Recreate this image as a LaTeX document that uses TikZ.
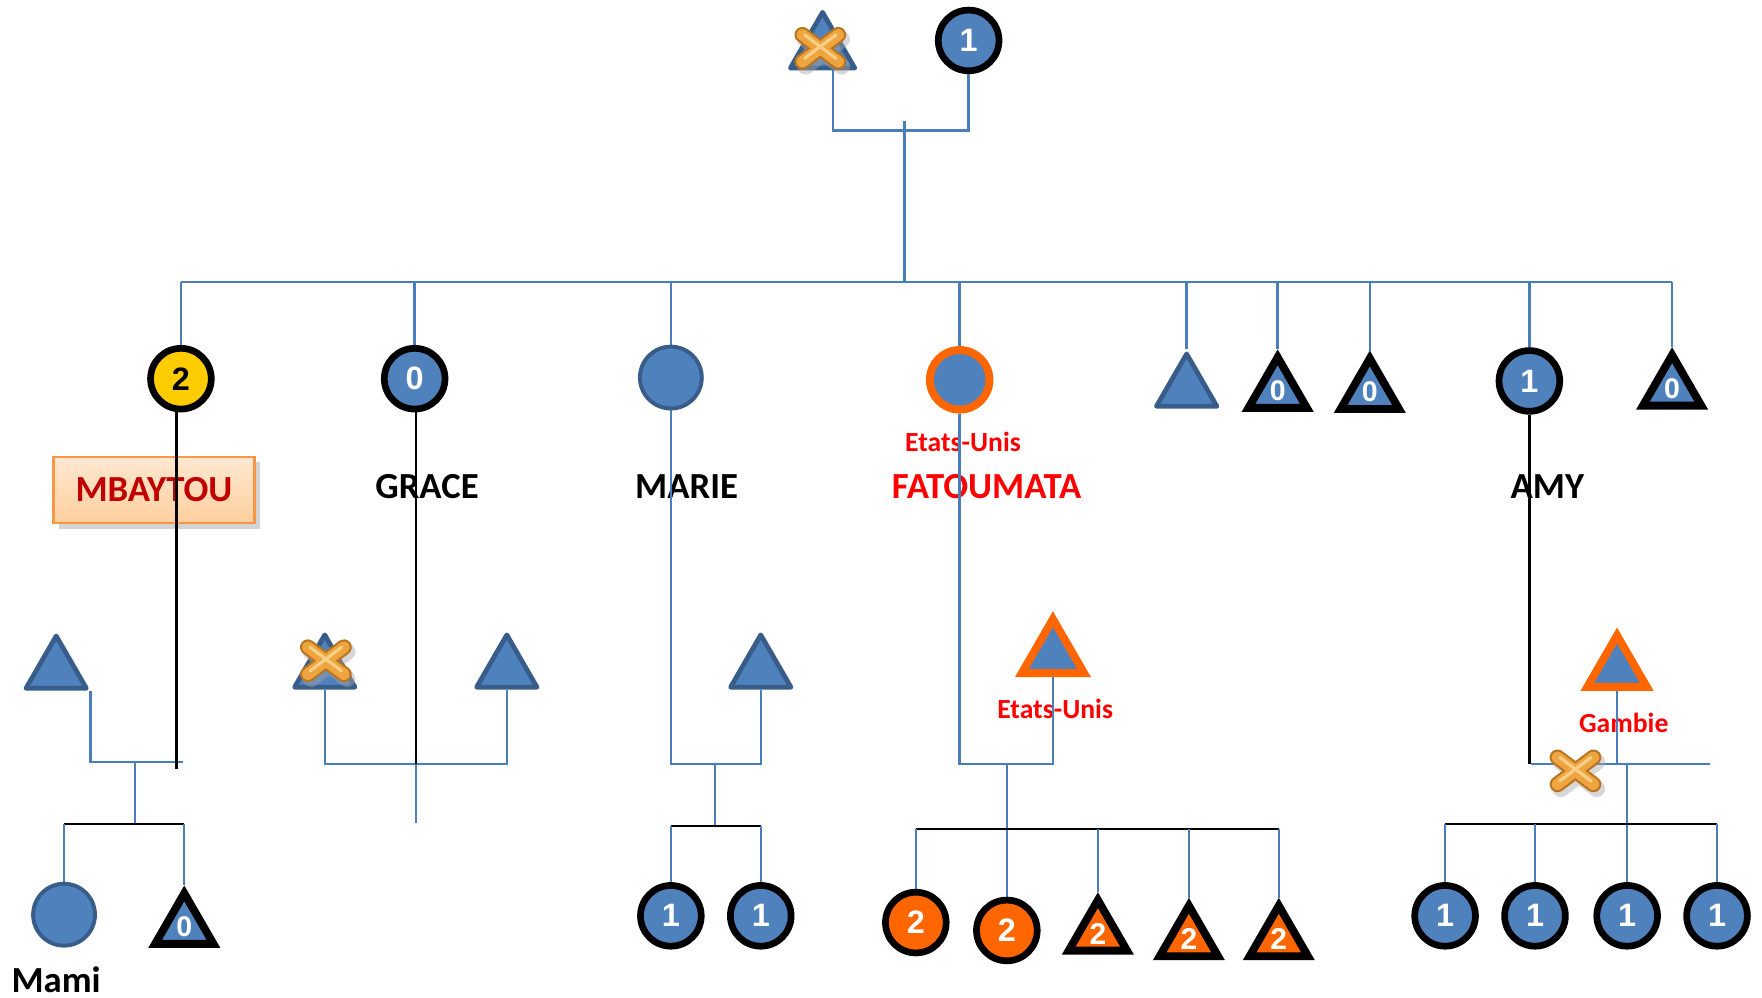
\documentclass[tikz,border=0pt]{standalone}
\usepackage{fontspec}
\setmainfont{Carlito}
\newfontfamily\digitfont{Liberation Sans}
\usetikzlibrary{shapes.geometric,shadows}
\definecolor{bfill}{HTML}{4F81BD}
\definecolor{bedge}{HTML}{385D8A}
\definecolor{lblue}{HTML}{4A7EBB}
\definecolor{orng}{HTML}{FF6600}
\definecolor{yell}{HTML}{FFCC00}
\definecolor{redt}{HTML}{FF0000}
\definecolor{dred}{HTML}{C00000}
\definecolor{boxedge}{HTML}{F79646}
\definecolor{xout}{HTML}{B87420}
\definecolor{xin}{HTML}{EEA43F}
\definecolor{xhi}{HTML}{F8CF86}
\pgfdeclarelayer{lab}
\pgfdeclarelayer{con}
\pgfsetlayers{lab,con,main}
\tikzset{
  bl/.style={draw=lblue, line width=0.6pt},
  bk/.style={draw=black, line width=0.6pt},
  circ/.style={circle, draw=black, line width=1.7pt, fill=bfill, minimum size=5.4mm, inner sep=0pt, text=white, font=\digitfont\bfseries\fontsize{8.2}{9}\selectfont},
  ycirc/.style={circ, fill=yell, text=black},
  kocirc/.style={circ, fill=orng},
  pcirc/.style={circle, draw=bedge, line width=1pt, fill=bfill, minimum size=5.5mm, inner sep=0pt},
  ocirc/.style={circle, draw=orng, line width=2pt, fill=bfill, minimum size=5.3mm, inner sep=0pt},
  btri/.style={regular polygon, regular polygon sides=3, draw=bedge, fill=bfill, line width=1.2pt, line join=round, minimum size=6.2mm, inner sep=0pt},
  ktri/.style={regular polygon, regular polygon sides=3, draw=black, fill=bfill, line width=2pt, minimum size=6mm, inner sep=0pt, text=white, font=\digitfont\bfseries\fontsize{7.2}{8}\selectfont},
  kotri/.style={ktri, fill=orng, font=\digitfont\bfseries\fontsize{7.6}{8}\selectfont},
  otri/.style={regular polygon, regular polygon sides=3, draw=orng, fill=bfill, line width=2pt, minimum size=6.1mm, inner sep=0pt},
  lbl/.style={font=\bfseries\fontsize{9.3}{11}\selectfont, inner sep=0pt},
  sm/.style={font=\bfseries\fontsize{7}{8}\selectfont, text=redt, inner sep=0pt},
  mbox/.style={lbl, text=dred, draw=boxedge, line width=0.6pt, top color=orange!18, bottom color=orange!38!white, minimum width=17.9mm, minimum height=5.9mm, drop shadow={shadow xshift=0.5mm, shadow yshift=-0.5mm, opacity=0.35}},
  goldx/.pic={
    \draw[line width=4.2pt, black!35, line cap=round, opacity=0.45] (-13,-8) -- (19,16) (-13,16) -- (19,-8);
    \draw[line width=4pt, xout, line cap=round] (-16,-12) -- (16,12) (-16,12) -- (16,-12);
    \draw[line width=2.9pt, xin, line cap=round] (-16,-12) -- (16,12) (-16,12) -- (16,-12);
    \draw[line width=0.8pt, xhi, line cap=round] (-14,-12) -- (14,9) (-14,9) -- (14,-12);
  }
}
\begin{document}
\begin{tikzpicture}[x=0.01cm,y=-0.01cm]
\useasboundingbox (0,0) rectangle (1568,888);

% ---------- labels (bottom layer)
\begin{pgfonlayer}{lab}
\node[mbox] (nA) at (137,436) {MBAYTOU};
\node[lbl] (nB) at (380,433) {GRACE};
\node[lbl] (nC) at (611,433) {MARIE};
\node[lbl, text=redt] (nD) at (878,433) {FATOUMATA};
\node[lbl] (nH) at (1377,433) {AMY};
\node[sm] (eu1) at (857,393) {Etats-Unis};
\node[sm] (eu2) at (939,631) {Etats-Unis};
\node[sm] (gb) at (1445,643) {Gambie};
\node[lbl] (mami) at (50,872) {Mami};
\end{pgfonlayer}

% ---------- shapes
\node[btri, minimum size=6.6mm] (T0) at (732,44) {};
\node[circ] (T1) at (862,36) {1};

\node[ycirc] (A) at (161,337) {2};
\node[circ] (B) at (369,337) {0};
\node[pcirc] (C) at (597,336) {};
\node[ocirc] (D) at (854,338) {};
\node[btri] (E) at (1056,346) {};
\node[ktri] (F) at (1137,348) {0};
\node[ktri] (G) at (1219,349) {0};
\node[circ] (H) at (1361,339) {1};
\node[ktri] (I) at (1488,346) {0};

\node[btri] (S1) at (50,597) {};
\node[btri] (S2) at (289,596) {};
\node[btri] (S3) at (451,596) {};
\node[btri] (S4) at (677,596) {};
\node[otri, minimum size=6.4mm] (S5) at (937,583) {};
\node[otri] (S6) at (1439,596) {};

\node[pcirc] (K11) at (57,814) {};
\node[ktri] (K12) at (164,825) {0};
\node[circ] (K31) at (597,815) {1};
\node[circ] (K32) at (677,815) {1};
\node[kocirc] (K41) at (815,821) {2};
\node[kocirc] (K42) at (896,828) {2};
\node[kotri] (K43) at (977,831) {2};
\node[kotri] (K44) at (1058,836) {2};
\node[kotri] (K45) at (1138,836) {2};
\node[circ] (K51) at (1286,815) {1};
\node[circ] (K52) at (1366,815) {1};
\node[circ] (K53) at (1448,815) {1};
\node[circ] (K54) at (1528,815) {1};

% ---------- connectors
\begin{pgfonlayer}{con}
\coordinate (jt) at (805,116);
\coordinate (js) at (805,251);
\coordinate (sL) at (161,251);
\coordinate (sR) at (1488,251);
\draw[bl] ([xshift=0.9mm]T0.south) -- ([xshift=0.9mm]T0.south |- jt) -- (T1.south |- jt) -- (T1.south);
\draw[bl] ([yshift=0.8mm]jt) -- (js);
\draw[bl] (sL) -- (sR);
\foreach \n in {A,B,C,D,E,F,G,H,I} \draw[bl] (\n.north |- sL) -- (\n.north);

% MBAYTOU
\coordinate (m1) at (120,678);
\coordinate (m1r) at (163,678);
\coordinate (m1b) at (157,684);
\coordinate (k1) at (120,733);
\draw[bl] (S1.corner 3) -- (S1.corner 3 |- m1) -- (m1r);
\draw[bk] (m1b |- A.south) -- (m1b);
\draw[bl] (m1) -- (k1);
\draw[bk] (K11.north |- k1) -- (K12.north |- k1);
\draw[bl] (K11.north |- k1) -- (K11.north);
\draw[bl] (K12.north |- k1) -- (K12.north);

% GRACE
\coordinate (m2) at (370,680);
\coordinate (m2d) at (370,732);
\draw[bl] (S2.south) -- (S2.south |- m2) -- (S3.south |- m2) -- (S3.south);
\draw[bk] (m2 |- B.south) -- (m2);
\draw[bl] (m2) -- (m2d);

% MARIE
\coordinate (m3) at (636,680);
\coordinate (k3) at (636,735);
\draw[bl] (C.south) -- (C.south |- m3) -- (S4.south |- m3) -- (S4.south);
\draw[bl] (m3) -- (k3);
\draw[bk] (K31.north |- k3) -- (K32.north |- k3);
\draw[bl] (K31.north |- k3) -- (K31.north);
\draw[bl] (K32.north |- k3) -- (K32.north);

% FATOUMATA
\coordinate (m4) at (896,680);
\coordinate (k4) at (896,738);
\draw[bl] (D.south) -- (D.south |- m4) -- (S5.south |- m4) -- (S5.south);
\draw[bl] (m4) -- (K42.north);
\draw[bk] (K41.north |- k4) -- (K45.north |- k4);
\foreach \n in {K41,K43,K44,K45} \draw[bl] (\n.north |- k4) -- (\n.north);

% AMY
\coordinate (m5) at (1448,680);
\coordinate (m5l) at (1362,680);
\coordinate (m5r) at (1522,680);
\coordinate (k5) at (1448,733);
\draw[bk] (H.south) -- (H.south |- m5);
\draw[bl] (m5l) -- (m5r);
\draw[bl] (S6.south) -- (S6.south |- m5);
\draw[bl] (m5) -- (K53.north);
\draw[bk] (K51.north |- k5) -- (K54.north |- k5);
\foreach \n in {K51,K52,K54} \draw[bl] (\n.north |- k5) -- (\n.north);
\end{pgfonlayer}

% ---------- crosses
\pic at (730,43) {goldx};
\pic at (290,588) {goldx};
\pic at (1402,686) {goldx};
\end{tikzpicture}
\end{document}
